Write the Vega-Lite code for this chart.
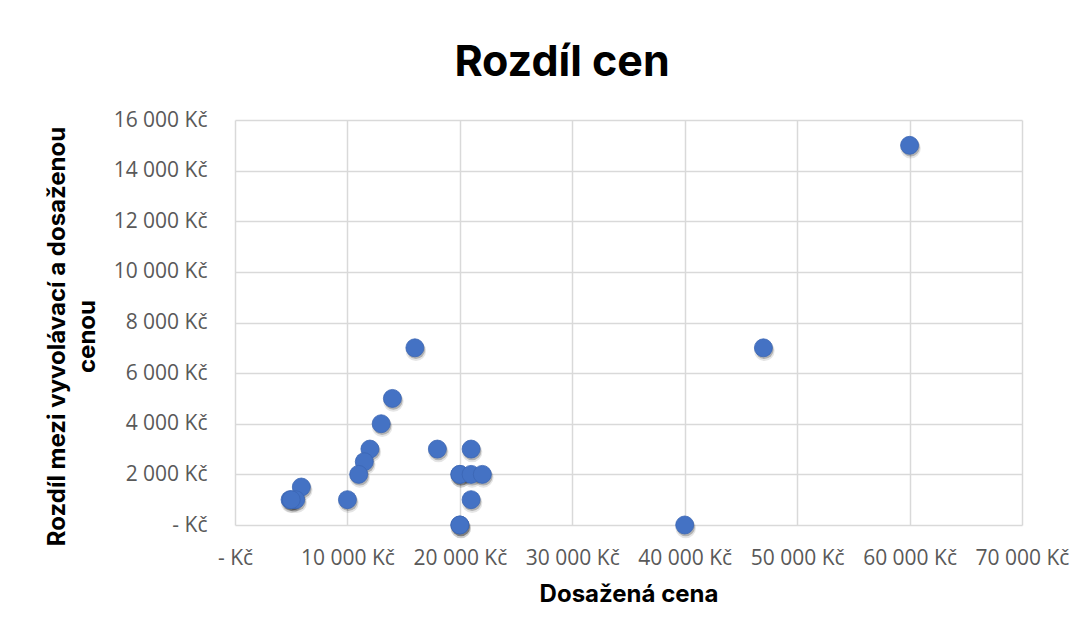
{
  "$schema": "https://vega.github.io/schema/vega-lite/v6.json",
  "width": 787,
  "height": 405,
  "autosize": {"type": "none"},
  "padding": {"left": 235, "top": 120, "right": 69, "bottom": 107},
  "background": "white",
  "title": {
    "text": "Rozdíl cen",
    "font": "Inter",
    "fontSize": 43,
    "fontWeight": "bold",
    "color": "#000000",
    "anchor": "middle",
    "frame": "bounds",
    "dx": 5,
    "offset": 24
  },
  "data": {
    "values": [
      {"dosazena": 60000, "rozdil": 15000},
      {"dosazena": 47000, "rozdil": 7000},
      {"dosazena": 16000, "rozdil": 7000},
      {"dosazena": 14000, "rozdil": 5000},
      {"dosazena": 13000, "rozdil": 4000},
      {"dosazena": 12000, "rozdil": 3000},
      {"dosazena": 11500, "rozdil": 2500},
      {"dosazena": 11000, "rozdil": 2000},
      {"dosazena": 10000, "rozdil": 1000},
      {"dosazena": 5900, "rozdil": 1500},
      {"dosazena": 5400, "rozdil": 1000},
      {"dosazena": 4900, "rozdil": 1000},
      {"dosazena": 5000, "rozdil": 1000},
      {"dosazena": 18000, "rozdil": 3000},
      {"dosazena": 21000, "rozdil": 3000},
      {"dosazena": 20000, "rozdil": 2000},
      {"dosazena": 20000, "rozdil": 2000},
      {"dosazena": 21000, "rozdil": 2000},
      {"dosazena": 22000, "rozdil": 2000},
      {"dosazena": 21000, "rozdil": 1000},
      {"dosazena": 20000, "rozdil": 0},
      {"dosazena": 20000, "rozdil": 0},
      {"dosazena": 40000, "rozdil": 0}
    ]
  },
  "encoding": {
    "x": {
      "field": "dosazena",
      "type": "quantitative",
      "scale": {"domain": [0, 70000], "nice": false, "zero": true},
      "axis": {
        "values": [0, 10000, 20000, 30000, 40000, 50000, 60000, 70000],
        "title": "Dosažená cena",
        "titlePadding": 14,
        "labelPadding": 22,
        "labelOverlap": false,
        "labelFlush": false,
        "labelExpr": "datum.value == 0 ? '- Kč' : replace(format(datum.value, ','), ',', ' ') + ' Kč'"
      }
    },
    "y": {
      "field": "rozdil",
      "type": "quantitative",
      "scale": {"domain": [0, 16000], "nice": false, "zero": true},
      "axis": {
        "values": [0, 2000, 4000, 6000, 8000, 10000, 12000, 14000, 16000],
        "title": ["Rozdíl mezi vyvolávací a dosaženou", "cenou"],
        "titlePadding": 14,
        "titleLineHeight": 30,
        "titleY": 216,
        "labelPadding": 28,
        "labelOverlap": false,
        "labelFlush": false,
        "labelExpr": "datum.value == 0 ? '- Kč' : replace(format(datum.value, ','), ',', ' ') + ' Kč'"
      }
    }
  },
  "layer": [
    {
      "mark": {"type": "circle", "size": 420, "color": "#000000", "opacity": 0.10, "xOffset": 1, "yOffset": 3}
    },
    {
      "mark": {"type": "circle", "size": 340, "color": "#000000", "opacity": 0.22, "xOffset": 1, "yOffset": 2}
    },
    {
      "mark": {"type": "circle", "size": 324, "color": "#4472C4", "opacity": 1, "stroke": "#3B66B4", "strokeWidth": 0.8}
    }
  ],
  "config": {
    "view": {"stroke": null},
    "axis": {
      "grid": true,
      "gridColor": "#d9d9d9",
      "gridWidth": 1.5,
      "domain": false,
      "ticks": false,
      "labelFont": "Open Sans",
      "labelFontSize": 21,
      "labelColor": "#595959",
      "titleFont": "Inter",
      "titleFontSize": 24,
      "titleFontWeight": "bold",
      "titleColor": "#000000"
    }
  }
}
